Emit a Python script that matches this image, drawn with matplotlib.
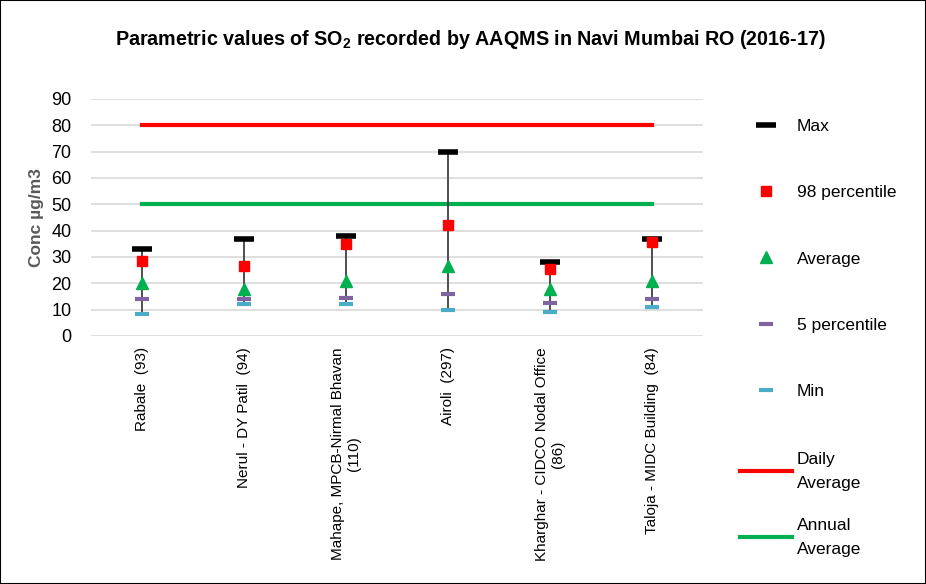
import matplotlib
matplotlib.use('Agg')
import matplotlib.pyplot as plt
from matplotlib.patches import Rectangle
import numpy as np

plt.rcParams['font.family'] = ['Liberation Sans', 'DejaVu Sans']
plt.rcParams['mathtext.fontset'] = 'custom'
plt.rcParams['mathtext.rm'] = 'Liberation Sans'
plt.rcParams['mathtext.bf'] = 'Liberation Sans:bold'

# data
stations = ['Rabale  (93)', 'Nerul - DY Patil  (94)', 'Mahape, MPCB-Nirmal Bhavan\n(110)',
            'Airoli  (297)', 'Kharghar - CIDCO Nodal Office\n(86)', 'Taloja - MIDC Building  (84)']
max_vals = [33, 37, 38, 70, 28, 37]
p98_vals = [28.3, 26.5, 35, 42, 25.5, 35.5]
avg_vals = [20, 18, 21, 26.5, 18, 21]
p5_vals = [14, 14, 14.5, 16, 12.5, 14]
min_vals = [8.2, 12.3, 12.3, 10, 9.2, 11]
daily_std = [80] * 6
annual_std = [50] * 6

fig = plt.figure(figsize=(9.26, 5.84), dpi=100)
ax = fig.add_axes([0.098, 0.4247, 0.661, 0.4058])

x = np.arange(len(stations))

# vertical range lines
ax.vlines(x, min_vals, max_vals, color='#404040', lw=1.3, zorder=2)

l_day, = ax.plot(x, daily_std, color='#ff0000', lw=3, label='Daily\nAverage', zorder=1)
l_ann, = ax.plot(x, annual_std, color='#00b050', lw=3, label='Annual\nAverage', zorder=1)

h_max, = ax.plot(x, max_vals, ls='none', marker='_', ms=14, mew=4, color='black', label='Max', zorder=3)
h_98, = ax.plot(x, p98_vals, ls='none', marker='s', ms=6.5, color='#ff0000', label='98 percentile', zorder=3)
h_avg, = ax.plot(x, avg_vals, ls='none', marker='^', ms=8, color='#00b050', label='Average', zorder=3)
h_p5, = ax.plot(x, p5_vals, ls='none', marker='_', ms=10, mew=3, color='#8064a2', label='5 percentile', zorder=3)
h_min, = ax.plot(x, min_vals, ls='none', marker='_', ms=10, mew=3, color='#4bacc6', label='Min', zorder=3)

ax.set_xlim(-0.5, len(stations) - 0.5)
ax.set_ylim(0, 90)
ax.set_yticks(np.arange(0, 91, 10))
ax.yaxis.grid(True, color='#d9d9d9', lw=1.2)
ax.set_axisbelow(True)
for s in ax.spines.values():
    s.set_visible(False)
ax.tick_params(axis='y', length=0, pad=14, labelsize=13)
ax.tick_params(axis='x', length=0, pad=8)
ax.set_xticks(x)
ax.set_xticklabels(stations, rotation=90, fontsize=11, ha='center', va='top', multialignment='center')

ax.set_ylabel('Conc µg/m3', fontsize=12.5, fontweight='bold', color='#595959', labelpad=5)

fig.text(0.508, 0.933, r'Parametric values of SO$_\mathbf{2}$ recorded by AAQMS in Navi Mumbai RO (2016-17)',
         ha='center', va='center', fontsize=14.2, fontweight='bold')

# legend: markers first, then the two standard lines
pts = [h_max, h_98, h_avg, h_p5, h_min]
leg1 = ax.legend(pts, [h.get_label() for h in pts], loc='upper left', bbox_to_anchor=(1.05, 0.945),
                 frameon=False, fontsize=12.5, labelspacing=2.94, handlelength=3.0,
                 handletextpad=0.25, borderaxespad=0)
ax.add_artist(leg1)
lns = [l_day, l_ann]
leg2 = ax.legend(lns, [h.get_label() for h in lns], loc='upper left', bbox_to_anchor=(1.05, -0.46),
                 frameon=False, fontsize=12.5, labelspacing=1.53, handlelength=3.0,
                 handletextpad=0.25, borderaxespad=0)
for t in leg2.get_texts():
    t.set_linespacing(1.77)

fig.patches.append(Rectangle((0, 0), 1, 1, transform=fig.transFigure, fill=False,
                             edgecolor='black', lw=1.5))

fig.savefig('out.png', dpi=100)
